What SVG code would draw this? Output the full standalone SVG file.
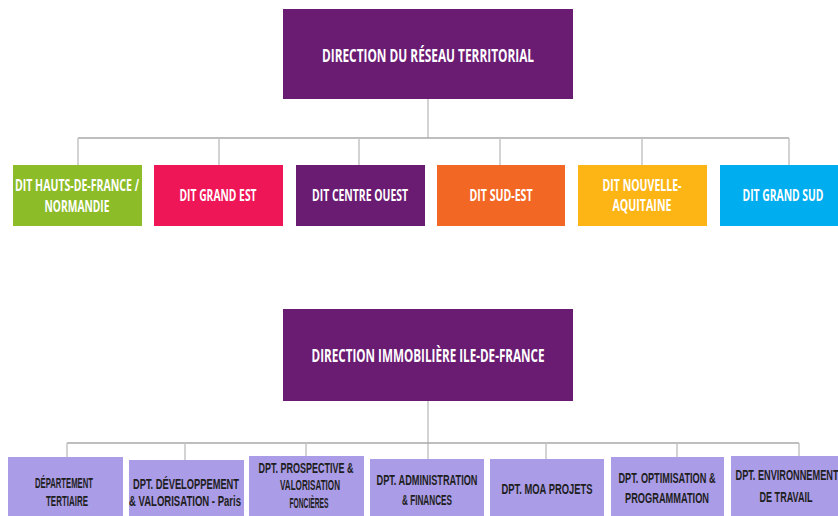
<svg xmlns="http://www.w3.org/2000/svg" width="838" height="516" viewBox="0 0 838 516">
<style>
.conn line{stroke:#C4C4C4;stroke-width:1.5;fill:none}
.conn .h{stroke:#A8A8A8}
.tw{font-family:"Open Sans","Liberation Sans",sans-serif;font-weight:bold;fill:#FFFFFF;text-anchor:middle}
.tb{font-family:"Liberation Sans","Arial",sans-serif;font-weight:bold;fill:#1E1E1E;text-anchor:middle;font-size:14.5px}
.lav{fill:#AA9CE6}
</style>
<rect width="838" height="516" fill="#FFFFFF"/>
<g class="conn">
<line x1="428" y1="99" x2="428" y2="138"/>
<line class="h" x1="78" y1="138" x2="789" y2="138"/>
<line x1="78" y1="138" x2="78" y2="165"/>
<line x1="219" y1="138" x2="219" y2="165"/>
<line x1="359" y1="138" x2="359" y2="165"/>
<line x1="500" y1="138" x2="500" y2="165"/>
<line x1="642" y1="138" x2="642" y2="165"/>
<line x1="789" y1="138" x2="789" y2="165"/>
<line x1="428" y1="401" x2="428" y2="459"/>
<line class="h" x1="67" y1="443" x2="799" y2="443"/>
<line x1="67" y1="443" x2="67" y2="457"/>
<line x1="185" y1="443" x2="185" y2="460"/>
<line x1="306" y1="443" x2="306" y2="456"/>
<line x1="546" y1="443" x2="546" y2="459"/>
<line x1="677" y1="443" x2="677" y2="457"/>
<line x1="799" y1="443" x2="799" y2="456"/>
</g>
<g id="direction-reseau">
<rect x="283" y="9" width="290" height="90" fill="#6A1B72"/>
<text class="tw" x="428" y="62" font-size="17" textLength="212" lengthAdjust="spacingAndGlyphs">DIRECTION DU RÉSEAU TERRITORIAL</text>
</g>
<g id="dit-hdf">
<rect x="13" y="165" width="129" height="61" fill="#8CBC28"/>
<text class="tw" x="77" y="191" font-size="16" textLength="124" lengthAdjust="spacingAndGlyphs">DIT HAUTS-DE-FRANCE /</text>
<text class="tw" x="77" y="212" font-size="16" textLength="65" lengthAdjust="spacingAndGlyphs">NORMANDIE</text>
</g>
<g id="dit-grand-est">
<rect x="154" y="165" width="129" height="61" fill="#EE1657"/>
<text class="tw" x="218" y="201" font-size="16" textLength="77" lengthAdjust="spacingAndGlyphs">DIT GRAND EST</text>
</g>
<g id="dit-centre-ouest">
<rect x="296" y="165" width="129" height="61" fill="#6A1B72"/>
<text class="tw" x="360" y="201" font-size="16" textLength="96" lengthAdjust="spacingAndGlyphs">DIT CENTRE OUEST</text>
</g>
<g id="dit-sud-est">
<rect x="437" y="165" width="128" height="61" fill="#F36725"/>
<text class="tw" x="501" y="201" font-size="16" textLength="63" lengthAdjust="spacingAndGlyphs">DIT SUD-EST</text>
</g>
<g id="dit-nouvelle-aquitaine">
<rect x="578" y="165" width="129" height="61" fill="#FDB515"/>
<text class="tw" x="642" y="191" font-size="16" textLength="79" lengthAdjust="spacingAndGlyphs">DIT NOUVELLE-</text>
<text class="tw" x="642" y="211" font-size="16" textLength="59" lengthAdjust="spacingAndGlyphs">AQUITAINE</text>
</g>
<g id="dit-grand-sud">
<rect x="720" y="165" width="129" height="61" fill="#00AEEF"/>
<text class="tw" x="783" y="201" font-size="16" textLength="81" lengthAdjust="spacingAndGlyphs">DIT GRAND SUD</text>
</g>
<g id="direction-immobiliere">
<rect x="283" y="309" width="290" height="92" fill="#6A1B72"/>
<text class="tw" x="428" y="362" font-size="17" textLength="233" lengthAdjust="spacingAndGlyphs">DIRECTION IMMOBILIÈRE ILE-DE-FRANCE</text>
</g>
<g id="dpt-tertiaire">
<rect class="lav" x="8" y="457" width="115" height="60"/>
<text class="tb" x="64" y="488" textLength="58" lengthAdjust="spacingAndGlyphs">DÉPARTEMENT</text>
<text class="tb" x="67" y="506" textLength="42" lengthAdjust="spacingAndGlyphs">TERTIAIRE</text>
</g>
<g id="dpt-developpement">
<rect class="lav" x="129" y="460" width="115" height="57"/>
<text class="tb" x="186" y="489" textLength="106" lengthAdjust="spacingAndGlyphs">DPT. DÉVELOPPEMENT</text>
<text class="tb" x="185" y="506" textLength="112" lengthAdjust="spacingAndGlyphs">&amp; VALORISATION - Paris</text>
</g>
<g id="dpt-prospective">
<rect class="lav" x="249" y="456" width="115" height="61"/>
<text class="tb" x="306" y="473" textLength="95" lengthAdjust="spacingAndGlyphs">DPT. PROSPECTIVE &amp;</text>
<text class="tb" x="310" y="490" textLength="60" lengthAdjust="spacingAndGlyphs">VALORISATION</text>
<text class="tb" x="309" y="508" textLength="39" lengthAdjust="spacingAndGlyphs">FONCIÈRES</text>
</g>
<g id="dpt-administration">
<rect class="lav" x="370" y="459" width="114" height="58"/>
<text class="tb" x="427" y="485" textLength="101" lengthAdjust="spacingAndGlyphs">DPT. ADMINISTRATION</text>
<text class="tb" x="427" y="505" textLength="50" lengthAdjust="spacingAndGlyphs">&amp; FINANCES</text>
</g>
<g id="dpt-moa">
<rect class="lav" x="490" y="459" width="114" height="58"/>
<text class="tb" x="547" y="494" textLength="91" lengthAdjust="spacingAndGlyphs">DPT. MOA PROJETS</text>
</g>
<g id="dpt-optimisation">
<rect class="lav" x="611" y="457" width="113" height="60"/>
<text class="tb" x="667" y="483" textLength="97" lengthAdjust="spacingAndGlyphs">DPT. OPTIMISATION &amp;</text>
<text class="tb" x="667" y="503" textLength="84" lengthAdjust="spacingAndGlyphs">PROGRAMMATION</text>
</g>
<g id="dpt-environnement">
<rect class="lav" x="731" y="456" width="114" height="61"/>
<text class="tb" x="787" y="480" textLength="103" lengthAdjust="spacingAndGlyphs">DPT. ENVIRONNEMENT</text>
<text class="tb" x="786" y="502" textLength="53" lengthAdjust="spacingAndGlyphs">DE TRAVAIL</text>
</g>
</svg>
